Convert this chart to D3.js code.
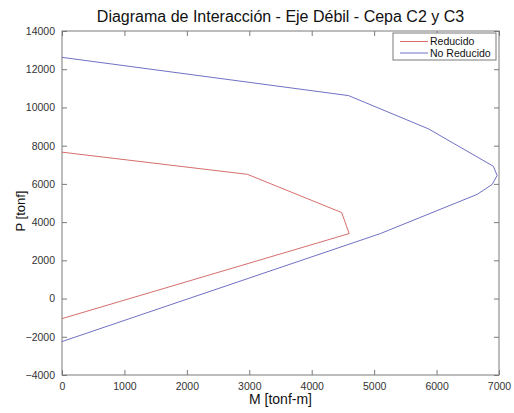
<!DOCTYPE html>
<html>
<head>
<meta charset="utf-8">
<script src="https://cdn.jsdelivr.net/npm/d3@7"></script>
<style>
  html, body { margin: 0; padding: 0; background: #fff; }
  text { font-family: "Liberation Sans", Arial, sans-serif; }
</style>
</head>
<body>
<svg id="chart" width="514" height="413"></svg>
<script>
// Interaction diagram, weak axis: moment M [tonf-m] vs axial load P [tonf]
const reducidoM = [0, 2970, 4480, 4600, 0];
const reducidoP = [7660, 6500, 4500, 3400, -1050];

const noReducidoM = [0, 4590, 5870, 6910, 6970, 6890, 6650, 5100, 0];
const noReducidoP = [12620, 10620, 8880, 6920, 6440, 5970, 5450, 3400, -2250];

const xTicks = [0, 1000, 2000, 3000, 4000, 5000, 6000, 7000];
const yTicks = [-4000, -2000, 0, 2000, 4000, 6000, 8000, 10000, 12000, 14000];

const seriesNames = ["Reducido", "No Reducido"];
const seriesColors = ["#cc4848", "#4c4cb4"];

const titleText = "Diagrama de Interacción - Eje Débil - Cepa C2 y C3";
const xLabel = "M [tonf-m]";
const yLabel = "P [tonf]";

const svg = d3.select("#chart");
const plot = { left: 62, right: 499, top: 31, bottom: 375 };

const x = d3.scaleLinear().domain([0, 7000]).range([plot.left, plot.right]);
const y = d3.scaleLinear().domain([-4000, 14000]).range([plot.bottom, plot.top]);

const axisColor = "#7a7a7a";
const tickLen = 5;

// axes box
svg.append("rect")
  .attr("x", plot.left).attr("y", plot.top)
  .attr("width", plot.right - plot.left).attr("height", plot.bottom - plot.top)
  .attr("fill", "#fff").attr("stroke", axisColor).attr("stroke-width", 1);

// inward ticks on all four sides, labels on bottom and left
const bottomAxis = d3.axisBottom(x).tickValues(xTicks).tickSize(-tickLen).tickPadding(8).tickFormat(d3.format("d"));
const leftAxis = d3.axisLeft(y).tickValues(yTicks).tickSize(-tickLen).tickPadding(7).tickFormat(d3.format("d"));
const topAxis = d3.axisTop(x).tickValues(xTicks).tickSize(-tickLen).tickFormat("");
const rightAxis = d3.axisRight(y).tickValues(yTicks).tickSize(-tickLen).tickFormat("");

function styleAxis(g) {
  g.select(".domain").remove();
  g.selectAll(".tick line").attr("stroke", axisColor);
  g.selectAll(".tick text").attr("fill", "#333").style("font-size", "10.5px");
}

svg.append("g").attr("transform", `translate(0,${plot.bottom})`).call(bottomAxis).call(styleAxis);
svg.append("g").attr("transform", `translate(${plot.left},0)`).call(leftAxis).call(styleAxis);
svg.append("g").attr("transform", `translate(0,${plot.top})`).call(topAxis).call(styleAxis);
svg.append("g").attr("transform", `translate(${plot.right},0)`).call(rightAxis).call(styleAxis);

// curves
const line = d3.line().x(d => x(d[0])).y(d => y(d[1]));
const series = [
  d3.zip(reducidoM, reducidoP),
  d3.zip(noReducidoM, noReducidoP)
];
series.forEach((pts, i) => {
  svg.append("path")
    .datum(pts)
    .attr("d", line)
    .attr("fill", "none")
    .attr("stroke", seriesColors[i])
    .attr("stroke-width", 1)
    .attr("stroke-opacity", 0.8);
});

// title and axis labels
svg.append("text")
  .attr("x", (plot.left + plot.right) / 2).attr("y", 22)
  .attr("text-anchor", "middle")
  .style("font-size", "16px").attr("fill", "#111")
  .text(titleText);

svg.append("text")
  .attr("x", (plot.left + plot.right) / 2).attr("y", 404)
  .attr("text-anchor", "middle")
  .style("font-size", "14px").attr("fill", "#111")
  .text(xLabel);

svg.append("text")
  .attr("transform", `translate(25,${(plot.top + plot.bottom) / 2 + 8}) rotate(-90)`)
  .attr("text-anchor", "middle")
  .style("font-size", "13px").attr("fill", "#111")
  .text(yLabel);

// legend
const legend = svg.append("g");
legend.append("rect")
  .attr("x", 393).attr("y", 33).attr("width", 103).attr("height", 27)
  .attr("fill", "#fff").attr("stroke", axisColor).attr("stroke-width", 1);
seriesNames.forEach((name, i) => {
  const ly = 41.5 + i * 11.5;
  legend.append("line")
    .attr("x1", 400).attr("x2", 428).attr("y1", ly).attr("y2", ly)
    .attr("stroke", seriesColors[i]).attr("stroke-width", 1).attr("stroke-opacity", 0.8);
  legend.append("text")
    .attr("x", 430).attr("y", ly + 3.6)
    .style("font-size", "10.5px").attr("fill", "#111")
    .text(name);
});
</script>
</body>
</html>
